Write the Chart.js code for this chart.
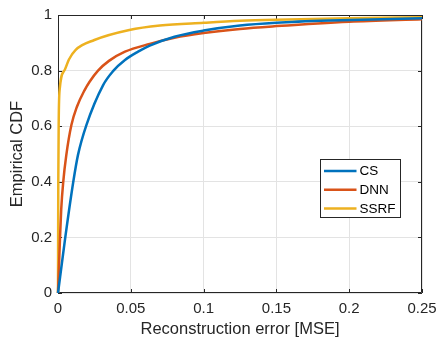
<!DOCTYPE html>
<html>
<head>
<meta charset="utf-8">
<script src="https://cdn.jsdelivr.net/npm/chart.js@4"></script>
<style>
  html, body { margin: 0; padding: 0; background: #fff; }
  #wrap { width: 438px; height: 343px; }
</style>
</head>
<body>
<div id="wrap"><canvas id="cdf"></canvas></div>
<script>
// values
const seriesNames = ["CS", "DNN", "SSRF"];
const seriesColors = ["#0072BD", "#D95319", "#EDB120"];

const csX = [0, 0.0015, 0.005, 0.0105, 0.0137, 0.0195, 0.031, 0.0378, 0.046, 0.055, 0.063, 0.08, 0.1, 0.125, 0.15, 0.187, 0.25];
const csY = [0, 0.06, 0.2, 0.4, 0.496, 0.604, 0.748, 0.798, 0.838, 0.868, 0.89, 0.922, 0.944, 0.962, 0.972, 0.98, 0.988];

const dnnX = [0, 0.0007, 0.0014, 0.0022, 0.0036, 0.0057, 0.0092, 0.013, 0.0183, 0.0217, 0.0275, 0.035, 0.046, 0.063, 0.08, 0.1, 0.125, 0.15, 0.2, 0.25];
const dnnY = [0, 0.1, 0.2, 0.3, 0.4, 0.496, 0.604, 0.67, 0.73, 0.76, 0.8, 0.835, 0.868, 0.896, 0.918, 0.935, 0.95, 0.96, 0.976, 0.985];

const ssrfX = [0, 0.0002, 0.0005, 0.0011, 0.0046, 0.0075, 0.012, 0.025, 0.049, 0.07, 0.1, 0.125, 0.15, 0.2, 0.25];
const ssrfY = [0, 0.4, 0.62, 0.73, 0.802, 0.84, 0.874, 0.91, 0.946, 0.962, 0.972, 0.979, 0.983, 0.988, 0.992];

const xTicks = [0, 0.05, 0.1, 0.15, 0.2, 0.25];
const xTickLabels = ["0", "0.05", "0.1", "0.15", "0.2", "0.25"];
const yTicks = [0, 0.2, 0.4, 0.6, 0.8, 1];
const yTickLabels = ["0", "0.2", "0.4", "0.6", "0.8", "1"];

const textColor = "#262626";
const fontFamily = "'Liberation Sans', Arial, Helvetica, sans-serif";

const toPoints = (xs, ys) => xs.map((x, i) => ({ x: x, y: ys[i] }));
const allX = [csX, dnnX, ssrfX];
const allY = [csY, dnnY, ssrfY];

// axes box with inward ticks on all four sides (matlab look)
const boxPlugin = {
  id: "box",
  beforeDatasetsDraw(chart) {
    const { ctx, chartArea: a, scales } = chart;
    const len = 4;
    ctx.save();
    ctx.strokeStyle = textColor;
    ctx.lineWidth = 1;
    ctx.beginPath();
    ctx.rect(a.left + 0.5, a.top + 0.5, a.right - a.left - 1, a.bottom - a.top - 1);
    xTicks.forEach(v => {
      const px = Math.round(scales.x.getPixelForValue(v)) + 0.5;
      ctx.moveTo(px, a.bottom); ctx.lineTo(px, a.bottom - len);
      ctx.moveTo(px, a.top); ctx.lineTo(px, a.top + len);
    });
    yTicks.forEach(v => {
      const py = Math.round(scales.y.getPixelForValue(v)) + 0.5;
      ctx.moveTo(a.left, py); ctx.lineTo(a.left + len, py);
      ctx.moveTo(a.right, py); ctx.lineTo(a.right - len, py);
    });
    ctx.stroke();
    ctx.restore();
  }
};

// legend box placed inside the axes, right side
const legendBoxPlugin = {
  id: "legendBox",
  afterDraw(chart) {
    const { ctx, chartArea: a } = chart;
    const w = 80, h = 58;
    const x0 = a.right - 101.5, y0 = a.top + 144.5;
    ctx.save();
    ctx.fillStyle = "#fff";
    ctx.fillRect(x0, y0, w, h);
    ctx.strokeStyle = textColor;
    ctx.lineWidth = 1;
    ctx.strokeRect(x0, y0, w, h);
    ctx.font = "13.5px " + fontFamily;
    ctx.textBaseline = "middle";
    chart.data.datasets.forEach((ds, i) => {
      const cy = y0 + 11.5 + i * 18.8;
      ctx.strokeStyle = ds.borderColor;
      ctx.lineWidth = 2.5;
      ctx.beginPath();
      ctx.moveTo(x0 + 3.5, cy);
      ctx.lineTo(x0 + 36, cy);
      ctx.stroke();
      ctx.fillStyle = "#000";
      ctx.fillText(ds.label, x0 + 39, cy + 0.5);
    });
    ctx.restore();
  }
};

new Chart(document.getElementById("cdf"), {
  type: "line",
  data: {
    datasets: seriesNames.map((name, i) => ({
      label: name,
      data: toPoints(allX[i], allY[i]),
      borderColor: seriesColors[i],
      backgroundColor: seriesColors[i],
      borderWidth: 2.5,
      pointRadius: 0,
      cubicInterpolationMode: "monotone",
      clip: 4
    }))
  },
  options: {
    responsive: true,
    maintainAspectRatio: false,
    animation: false,
    events: [],
    layout: { padding: { left: 0, top: 15, right: 16, bottom: 0 } },
    plugins: {
      legend: { display: false },
      tooltip: { enabled: false }
    },
    scales: {
      x: {
        type: "linear",
        min: 0,
        max: 0.25,
        afterBuildTicks: s => { s.ticks = xTicks.map(v => ({ value: v })); },
        afterFit: s => { s.height = 50; s.paddingLeft = 0; s.paddingRight = 0; },
        ticks: {
          padding: 7,
          color: textColor,
          font: { family: fontFamily, size: 15 },
          maxRotation: 0,
          callback: (v, i) => xTickLabels[i]
        },
        grid: { color: "#e3e3e3", drawTicks: false },
        border: { display: false },
        title: {
          display: true,
          text: "Reconstruction error [MSE]",
          color: textColor,
          font: { family: fontFamily, size: 16.5 },
          padding: { top: 0, bottom: 4 }
        }
      },
      y: {
        type: "linear",
        min: 0,
        max: 1,
        afterBuildTicks: s => { s.ticks = yTicks.map(v => ({ value: v })); },
        afterFit: s => { s.width = 58; s.paddingTop = 0; s.paddingBottom = 0; },
        ticks: {
          padding: 6,
          color: textColor,
          font: { family: fontFamily, size: 15 },
          callback: (v, i) => yTickLabels[i]
        },
        grid: { color: "#e3e3e3", drawTicks: false },
        border: { display: false },
        title: {
          display: true,
          text: "Empirical CDF",
          color: textColor,
          font: { family: fontFamily, size: 16.5 },
          padding: { top: 8, bottom: 0 }
        }
      }
    }
  },
  plugins: [boxPlugin, legendBoxPlugin]
});
</script>
</body>
</html>
